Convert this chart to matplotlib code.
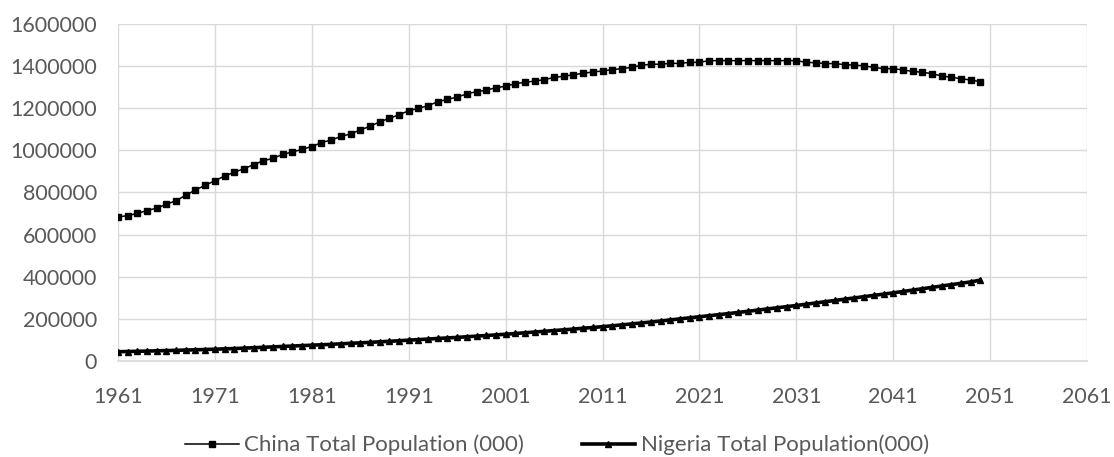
import matplotlib
matplotlib.use("Agg")
import matplotlib.pyplot as plt
from matplotlib.ticker import MultipleLocator, FuncFormatter

# Annual series, thousands of people
years = list(range(1961, 2051))

china_pop = [
    684, 690, 701, 714, 726, 744, 761, 787, 812, 834,
    856, 878, 896, 913, 932, 951, 962, 981, 992, 1005,
    1018, 1037, 1049, 1066, 1078, 1097, 1114, 1135, 1152, 1169,
    1188, 1200, 1212, 1231, 1242, 1253, 1268, 1279, 1285, 1298,
    1304, 1317, 1323, 1329, 1336, 1346, 1352, 1359, 1366, 1372,
    1377, 1383, 1388, 1394, 1404, 1409, 1409, 1413, 1413, 1418,
    1418, 1426, 1426, 1426, 1426, 1426, 1426, 1426, 1426, 1426,
    1426, 1418, 1416, 1412, 1412, 1407, 1405, 1401, 1394, 1388,
    1388, 1382, 1375, 1371, 1364, 1353, 1347, 1340, 1334, 1326,
]
china_pop = [v * 1000 for v in china_pop]

nigeria_pop = [
    44, 45, 46, 47, 48.5, 49.5, 50.5, 52, 53, 54.5,
    56, 57.5, 59, 61, 63, 65, 67, 69, 71, 73,
    75, 77, 79, 81.5, 84, 86, 88.5, 91, 93.5, 96,
    99, 101.5, 104, 107, 109.5, 112, 115, 118, 121, 124,
    127, 130.5, 134, 137.5, 141, 144.5, 148, 151.5, 155.5, 159,
    163, 167, 171.5, 176, 180.5, 185, 190, 195, 200, 205,
    210, 215, 220, 225, 230.5, 236, 241.5, 247, 252.5, 258,
    263.5, 269.5, 275.5, 281.5, 287.5, 293.5, 299.5, 305.5, 311.5, 317.5,
    323.5, 330, 336.5, 343, 349.5, 356, 362.5, 369, 375.5, 384,
]
nigeria_pop = [v * 1000 for v in nigeria_pop]

x_ticks = list(range(1961, 2062, 10))
china_label = "China Total Population (000)"
nigeria_label = "Nigeria Total Population(000)"

plt.rcParams["font.family"] = ["Lato", "DejaVu Sans"]
text_color = "#595959"
grid_color = "#d9d9d9"

fig = plt.figure(figsize=(11.14, 4.57), dpi=100)
ax = fig.add_axes([0.1059, 0.2101, 0.8699, 0.7374])

ax.plot(years, china_pop, color="black", linewidth=1.1, marker="s",
        markersize=4.4, label=china_label, zorder=3)
ax.plot(years, nigeria_pop, color="black", linewidth=2.6, marker="^",
        markersize=4.6, label=nigeria_label, zorder=3)

ax.set_xlim(1961, 2061)
ax.set_ylim(0, 1600000)
ax.set_xticks(x_ticks)
ax.yaxis.set_major_locator(MultipleLocator(200000))
ax.yaxis.set_major_formatter(FuncFormatter(lambda v, p: f"{int(v)}"))

ax.grid(True, color=grid_color, linewidth=1.0, zorder=0)
ax.set_axisbelow(True)
for side in ("top", "right", "left"):
    ax.spines[side].set_visible(False)
ax.spines["bottom"].set_color(grid_color)
ax.spines["bottom"].set_linewidth(1.2)

ax.tick_params(axis="both", length=0, labelsize=15.5, labelcolor=text_color)
ax.tick_params(axis="y", pad=15)
ax.tick_params(axis="x", pad=19)

leg = fig.legend(loc="center", bbox_to_anchor=(0.5, 0.026), ncol=2,
                 frameon=False, fontsize=16, handlelength=2.4,
                 handletextpad=0.25, columnspacing=2.6, markerscale=0.85)
for t in leg.get_texts():
    t.set_color(text_color)

fig.savefig("out.png", dpi=100)
